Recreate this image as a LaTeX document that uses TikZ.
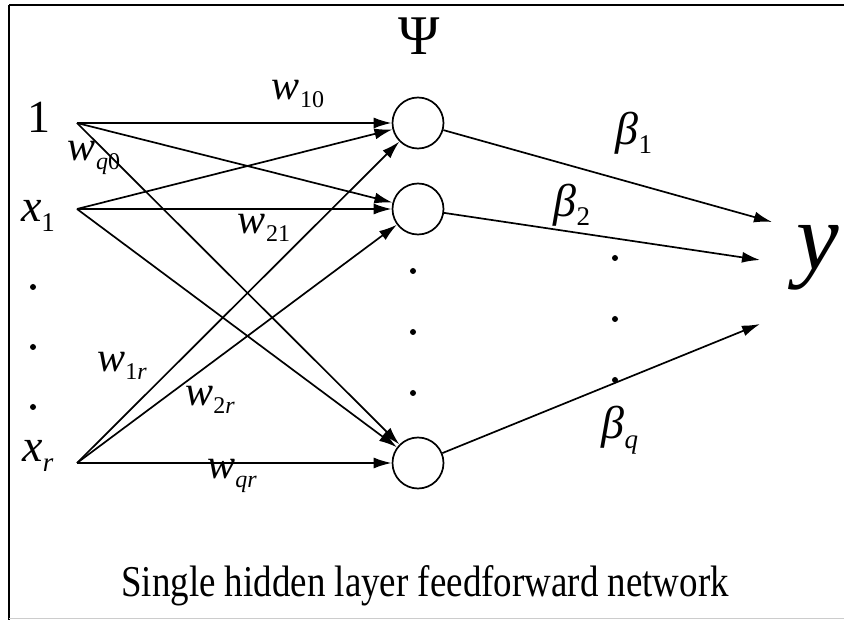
\documentclass[tikz,border=0pt]{standalone}
\usepackage{fontspec}
\setmainfont{Liberation Serif}
\usetikzlibrary{arrows.meta}

\tikzset{every picture/.style={line width=1.7pt}}
\tikzset{
  neuron/.style={draw, circle, minimum size=51pt, inner sep=0pt},
  link/.style={-{Latex[length=18pt,width=11pt]}},
  lab/.style={inner sep=0pt, font=\fontsize{46}{48}\selectfont},
  wlab/.style={inner sep=0pt, font=\fontsize{42}{44}\selectfont},
  dotmark/.style={fill, circle, inner sep=0pt, minimum size=6pt},
}
\newcommand{\subtxt}[1]{\raisebox{-0.45ex}{\fontsize{27}{27}\selectfont #1}}
\newcommand{\wsub}[1]{\raisebox{-0.45ex}{\fontsize{24}{24}\selectfont #1}}

\begin{document}
\begin{tikzpicture}[x=1pt,y=1pt,yscale=-1]
\useasboundingbox (0,0) rectangle (844,620);

%Frame
\draw (9,5) -- (844,5);
\draw (9,5) -- (9,620);
\draw [line width=1pt, black!20] (9,618) -- (844,618);

%Input points
\coordinate (in0) at (77,123);
\coordinate (in1) at (77,209);
\coordinate (inr) at (77,463);

% Text Node
\node [lab] (lab0) at (39,117) {1};
% Text Node
\node [lab] (lab1) at (38,216) {\textit{x}\subtxt{1}};
% Text Node
\node [lab] (labr) at (38,456) {\textit{x}\subtxt{\textit{r}}};

%Shape: Circle
\node [neuron] (h1) at (418,123) {};
\node [neuron] (h2) at (418,209) {};
\node [neuron] (hq) at (418,463) {};

%Output points
\coordinate (o1) at (772,222);
\coordinate (o2) at (760,260);
\coordinate (oq) at (760,324);

% Text Node
\node [inner sep=0pt, font=\fontsize{96}{96}\selectfont\itshape] (yout) at (818,258) {y};
% Text Node
\node [inner sep=0pt, font=\fontsize{56}{56}\selectfont] (psi) at (419,36) {Ψ};

%Straight Lines
\foreach \s in {in0,in1,inr}
  \foreach \h in {h1,h2,hq}
    \draw [link] (\s) -- (\h);

\draw [link] (h1) -- (o1);
\draw [link] (h2) -- (o2);
\draw [link] (hq) -- (oq);

%Dots
\foreach \y in {287,347,407} \node [dotmark] (din\y) at (33,\y) {};
\foreach \y in {271,332,393} \node [dotmark] (dh\y) at (413,\y) {};
\foreach \y in {258,319,380} \node [dotmark] (dout\y) at (615,\y) {};

% Text Node
\node [wlab] (w10) at (298,94) {\textit{w}\wsub{10}};
% Text Node
\node [wlab] (wq0) at (94,158) {\textit{w}\wsub{\textit{q}0}};
% Text Node
\node [wlab] (w21) at (264,228) {\textit{w}\wsub{21}};
% Text Node
\node [wlab] (w1r) at (122,366) {\textit{w}\wsub{1\textit{r}}};
% Text Node
\node [wlab] (w2r) at (210,400) {\textit{w}\wsub{2\textit{r}}};
% Text Node
\node [wlab] (wqr) at (232,476) {\textit{w}\wsub{\textit{qr}}};

% Text Node
\node [lab] (b1) at (634,133) {\textit{β}\subtxt{1}};
% Text Node
\node [lab] (b2) at (572,205) {\textit{β}\subtxt{2}};
% Text Node
\node [lab] (bq) at (620,430) {\textit{β}\subtxt{\textit{q}}};

% Text Node
\node [inner sep=0pt, font=\fontsize{44}{46}\selectfont] (cap) at (425,586) {\scalebox{0.84}[1]{Single hidden layer feedforward network}};

\end{tikzpicture}
\end{document}
